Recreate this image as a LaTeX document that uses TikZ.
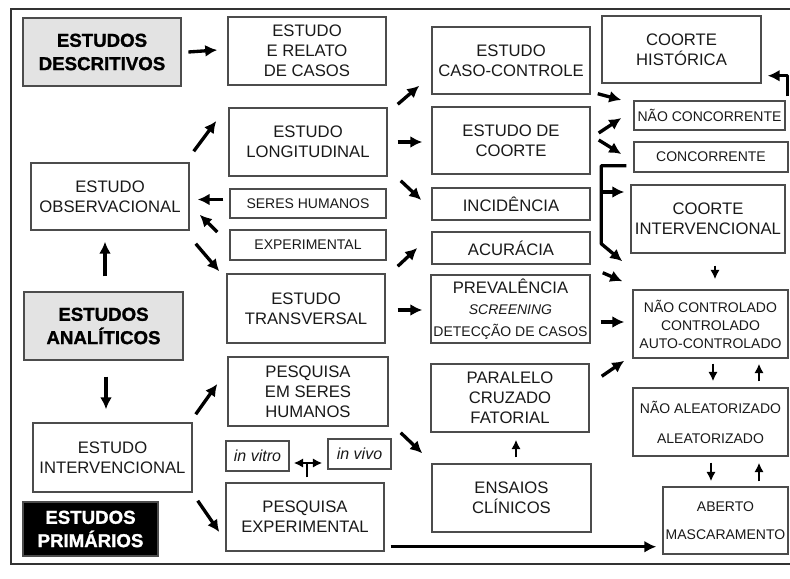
\documentclass[tikz,border=0pt]{standalone}
\usepackage{fontspec}
\setmainfont{Liberation Sans}
\newfontfamily\heavyfont[BoldFeatures={FakeBold=1.3}]{Liberation Sans}
\usepackage{tikz}
\usetikzlibrary{arrows,shapes}
\usetikzlibrary{arrows.meta}
\usetikzlibrary{positioning}
\usetikzlibrary{calc}
\tikzset{
    wh/.style 2 args={minimum width=#1*0.75pt, minimum height=#2*0.75pt},
    box/.style={draw=black!70, line width=1.1pt, align=center, inner sep=0pt,
        text=black!90, font=\fontsize{12.5}{15}\selectfont},
    smallbox/.style={box, font=\fontsize{10.5}{13.5}\selectfont},
    headbox/.style={box, fill=black!11, text=black,
        font=\heavyfont\fontsize{14}{17.5}\selectfont\bfseries},
    darkbox/.style={box, fill=black, text=white,
        font=\heavyfont\fontsize{14}{17.5}\selectfont\bfseries},
    flow/.style={draw=black, line width=2.5pt, line join=round,
        -{Latex[length=9pt,width=9pt]}},
    thinflow/.style={draw=black, line width=1.8pt,
        -{Latex[length=7pt,width=7pt]}},
}
\begin{document}
\begin{tikzpicture}[x=0.75pt, y=-0.75pt]
	\useasboundingbox (0,0) rectangle (790,579);
	\draw[line width=1.5pt, black!80] (790,9) -- (11,9) -- (11,564) -- (790,564);
	% first column
	\node[headbox, wh={158}{68}] (desc) at (102,52) {ESTUDOS\\DESCRITIVOS};
	\node[box, wh={158}{67}] (obs) at (110,196.5) {ESTUDO\\OBSERVACIONAL};
	\node[headbox, wh={159}{68}] (anal) at (103.5,326) {ESTUDOS\\ANALÍTICOS};
	\node[box, wh={159}{69}] (interv) at (112.5,457.5) {ESTUDO\\INTERVENCIONAL};
	\node[darkbox, wh={135}{54}] (prim) at (90.5,529) {ESTUDOS\\PRIMÁRIOS};
	% second column
	\node[box, wh={158}{68}] (relato) at (307,51) {ESTUDO\\E RELATO\\DE CASOS};
	\node[box, wh={158}{68}] (long) at (308,142) {ESTUDO\\LONGITUDINAL};
	\node[smallbox, wh={156}{29}] (seres) at (308,203.5) {SERES HUMANOS};
	\node[smallbox, wh={156}{30}] (exper) at (308,245) {EXPERIMENTAL};
	\node[box, wh={158}{69}] (transv) at (306,308.5) {ESTUDO\\TRANSVERSAL};
	\node[box, wh={160}{69}] (pesqsh) at (308,391.5) {PESQUISA\\EM SERES\\HUMANOS};
	\node[box, wh={63}{30}, font=\fontsize{12}{14}\selectfont\itshape] (vitro) at (257.5,456) {in vitro};
	\node[box, wh={63}{30}, font=\fontsize{12}{14}\selectfont\itshape] (vivo) at (359.5,454) {in vivo};
	\node[box, wh={158}{68}] (pesqexp) at (305,517) {PESQUISA\\EXPERIMENTAL};
	% third column
	\node[box, wh={158}{67}] (caso) at (511,60.5) {ESTUDO\\CASO-CONTROLE};
	\node[box, wh={158}{67}] (coorte) at (511,140.5) {ESTUDO DE\\COORTE};
	\node[box, wh={158}{32}] (incid) at (511,204) {INCIDÊNCIA};
	\node[box, wh={158}{32}] (acur) at (511,248) {ACURÁCIA};
	\node[box, wh={159}{68}, font=\fontsize{10.5}{16}\selectfont] (preval) at (510.5,309)
		{{\fontsize{12.5}{16}\selectfont PREVALÊNCIA}\\\textit{SCREENING}\\DETECÇÃO DE CASOS};
	\node[box, wh={158}{68}] (paral) at (510,398) {PARALELO\\CRUZADO\\FATORIAL};
	\node[box, wh={159}{68}] (ensaios) at (511.5,498) {ENSAIOS\\CLÍNICOS};
	% fourth column
	\node[box, wh={159}{67}] (hist) at (681.5,49.5) {COORTE\\HISTÓRICA};
	\node[smallbox, wh={151}{29}] (naoconc) at (709.5,115.5) {NÃO CONCORRENTE};
	\node[smallbox, wh={154}{30}] (conc) at (711,157) {CONCORRENTE};
	\node[box, wh={154}{68}] (cinterv) at (708,219) {COORTE\\INTERVENCIONAL};
	\node[smallbox, wh={155}{68}] (ncontr) at (710.5,324) {NÃO CONTROLADO\\CONTROLADO\\AUTO-CONTROLADO};
	\node[smallbox, wh={155}{68}, font=\fontsize{10.5}{22.5}\selectfont] (aleat) at (710.5,422)
		{NÃO ALEATORIZADO\\ALEATORIZADO};
	\node[smallbox, wh={125}{67}, font=\fontsize{10.5}{21}\selectfont] (aberto) at (725.5,520.5)
		{ABERTO\\MASCARAMENTO};
	%
	\draw[flow] ([xshift=5pt]desc.east) -- ([shift={(-10,-1)}]relato.west);
	\draw[flow] ([shift={(4,-11)}]obs.north east) -- ([shift={(-12,-21)}]long.west);
	\draw[flow] ([shift={(-6,-4)}]seres.west) -- ([shift={(8,3)}]obs.east);
	\draw[flow] ([shift={(-12,-13)}]exper.west) -- ([shift={(10,-16)}]obs.south east);
	\draw[flow] ([shift={(6,13)}]obs.south east) -- ([shift={(-7,-2)}]transv.north west);
	\draw[flow] ([shift={(1.5,-15)}]anal.north) -- ([shift={(-5,11)}]obs.south);
	\draw[flow] ([shift={(2.5,16)}]anal.south) -- ([shift={(-6.5,-13)}]interv.north);
	\draw[flow] ([shift={(3,-8)}]interv.north east) -- ([shift={(-10,-7.5)}]pesqsh.west);
	\draw[flow] ([shift={(5,8)}]interv.south east) -- ([shift={(-6,15)}]pesqexp.west);
	\draw[thinflow, {Latex[length=7pt,width=7pt]}-{Latex[length=7pt,width=7pt]}]
		([shift={(4,7)}]vitro.east) -- ([shift={(-5,9)}]vivo.west);
	\draw[draw=black, line width=2pt] ([shift={(2,-5)}]pesqexp.north) -- ++(0,-15);
	\draw[flow, line width=2pt] ([shift={(6,-5)}]pesqexp.south east) -- ([shift={(-6,-8)}]aberto.south west);
	%
	\draw[flow] ([shift={(10,-3)}]long.north east) -- ([shift={(-12,-9)}]caso.south west);
	\draw[flow] ([xshift=7.5pt]long.east) -- ([shift={(-9,1.5)}]coorte.west);
	\draw[flow] ([shift={(13,4)}]long.south east) -- ([shift={(-10,-4)}]incid.west);
	\draw[flow] ([shift={(12,-7)}]transv.north east) -- ([shift={(-14,0)}]acur.west);
	\draw[flow] ([shift={(12,1.5)}]transv.east) -- ([shift={(-8,1)}]preval.west);
	\draw[flow] ([shift={(12,6)}]pesqsh.south east) -- ([shift={(-9,-10)}]ensaios.north west);
	\draw[thinflow, line width=2pt] ([shift={(4.5,-6)}]ensaios.north) -- ([shift={(6,7)}]paral.south);
	%
	\draw[flow] ([shift={(7,-1)}]caso.south east) -- ([shift={(-12,-15.5)}]naoconc.west);
	\draw[flow] ([shift={(8,-7.5)}]coorte.east) -- ([shift={(-12,2.5)}]naoconc.west);
	\draw[flow] ([shift={(8,-0.5)}]coorte.east) -- ([shift={(-12,-3)}]conc.west);
	\draw[flow] ([shift={(2,-4)}]naoconc.north east) |- ([shift={(6,-8)}]hist.south east);
	\draw[flow] ([shift={(-7,-7)}]conc.south west) -- ++(-25,0) -- ++(0,78)
		-- ([shift={(-10,-28)}]ncontr.north west);
	\draw[flow] ([shift={(-29,-27)}]cinterv.west) -- ([shift={(-6,-27)}]cinterv.west);
	\draw[flow] ([shift={(12,8)}]acur.south east) -- ([shift={(-10,-8)}]ncontr.north west);
	\draw[flow] ([shift={(10,13)}]preval.east) -- ([shift={(-8,-2)}]ncontr.west);
	\draw[flow] ([shift={(12,13)}]paral.north east) -- ([shift={(-8,2)}]ncontr.south west);
	%
	\draw[thinflow] ([shift={(7,12)}]cinterv.south) -- ([shift={(4.5,-10)}]ncontr.north);
	\draw[thinflow] ([shift={(2.5,5)}]ncontr.south) -- ([shift={(2.5,-6)}]aleat.north);
	\draw[thinflow] ([shift={(48.5,-6)}]aleat.north) -- ([shift={(48.5,5)}]ncontr.south);
	\draw[thinflow] ([shift={(0.5,6)}]aleat.south) -- ([shift={(-14.5,-5)}]aberto.north);
	\draw[thinflow] ([shift={(33.5,-5)}]aberto.north) -- ([shift={(48.5,6)}]aleat.south);
\end{tikzpicture}
\end{document}
